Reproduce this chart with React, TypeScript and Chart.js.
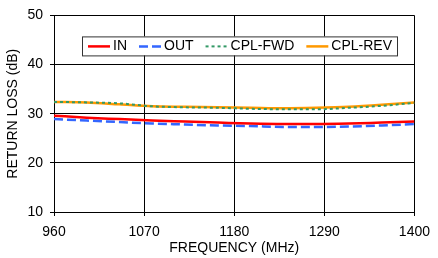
import React, { useEffect, useRef } from "react";
import { Chart, registerables } from "chart.js";

Chart.register(...registerables);

const freqs = [960, 1000, 1040, 1080, 1120, 1160, 1200, 1240, 1280, 1320, 1360, 1400];
const inLoss = [29.6, 29.2, 28.9, 28.6, 28.4, 28.2, 28.0, 27.9, 27.9, 28.0, 28.2, 28.4];
const outLoss = [28.9, 28.6, 28.3, 28.0, 27.8, 27.6, 27.5, 27.3, 27.3, 27.4, 27.6, 27.9];
const cplFwd = [32.4, 32.3, 32.1, 31.5, 31.3, 31.2, 31.0, 30.9, 30.9, 31.2, 31.6, 32.2];
const cplRev = [32.4, 32.3, 31.9, 31.5, 31.4, 31.3, 31.2, 31.1, 31.2, 31.4, 31.8, 32.3];
const seriesLabels = ["IN", "OUT", "CPL-FWD", "CPL-REV"];
const xTicks = [960, 1070, 1180, 1290, 1400];
const yTicks = [10, 20, 30, 40, 50];
const xTitle = "FREQUENCY (MHz)";
const yTitle = "RETURN LOSS (dB)";

const FONT = "'Liberation Sans', Arial, sans-serif";

const legendPlugin = {
  id: "boxLegend",
  afterDraw(chart: any) {
    const ctx = chart.ctx;
    const area = chart.chartArea;
    const left = area.left + 28;
    const top = area.top + 21;
    const h = 19;
    ctx.save();
    ctx.font = `14px ${FONT}`;
    const items = chart.data.datasets.map((d: any) => ({
      label: d.label,
      color: d.borderColor,
      dash: d.borderDash || [],
      lw: d.borderWidth,
      w: ctx.measureText(d.label).width,
    }));
    const sample = 22;
    let total = 6 + 5;
    items.forEach((it: any, i: number) => {
      total += sample + 3 + it.w + (i < items.length - 1 ? 12 : 0);
    });
    ctx.fillStyle = "#ffffff";
    ctx.fillRect(left, top, total, h);
    ctx.strokeStyle = "#333333";
    ctx.lineWidth = 1;
    ctx.strokeRect(left + 0.5, top + 0.5, total, h);
    let x = left + 6;
    const cy = top + h / 2 + 0.5;
    items.forEach((it: any) => {
      ctx.beginPath();
      ctx.setLineDash(it.dash);
      ctx.strokeStyle = it.color;
      ctx.lineWidth = it.lw;
      ctx.moveTo(x, cy);
      ctx.lineTo(x + sample, cy);
      ctx.stroke();
      ctx.setLineDash([]);
      x += sample + 3;
      ctx.fillStyle = "#000000";
      ctx.textBaseline = "middle";
      ctx.textAlign = "left";
      ctx.fillText(it.label, x, cy);
      x += it.w + 12;
    });
    ctx.restore();
  },
};

export default function App() {
  const ref = useRef<HTMLCanvasElement>(null);
  useEffect(() => {
    document.body.style.margin = "0";
    const mk = (vals: number[]) => freqs.map((f, i) => ({ x: f, y: vals[i] }));
    const chart = new Chart(ref.current!, {
      type: "line",
      data: {
        datasets: [
          { label: seriesLabels[0], data: mk(inLoss), borderColor: "#ff0000", borderWidth: 2.5, pointRadius: 0, tension: 0.4, cubicInterpolationMode: "monotone" },
          { label: seriesLabels[1], data: mk(outLoss), borderColor: "#3366ff", borderWidth: 2.5, borderDash: [9, 4], pointRadius: 0, tension: 0.4, cubicInterpolationMode: "monotone" },
          { label: seriesLabels[2], data: mk(cplFwd), borderColor: "#339966", borderWidth: 2, borderDash: [3, 3], pointRadius: 0, tension: 0.4, cubicInterpolationMode: "monotone" },
          { label: seriesLabels[3], data: mk(cplRev), borderColor: "#ff9900", borderWidth: 2.5, pointRadius: 0, tension: 0.4, cubicInterpolationMode: "monotone" },
        ],
      } as any,
      options: {
        animation: false,
        responsive: false,
        maintainAspectRatio: false,
        layout: { padding: { left: 0, right: 17, top: 12, bottom: 0 } },
        plugins: { legend: { display: false }, tooltip: { enabled: false }, title: { display: false } },
        scales: {
          x: {
            type: "linear",
            min: 960,
            max: 1400,
            afterBuildTicks: (s: any) => { s.ticks = xTicks.map((v) => ({ value: v })); },
            afterFit: (s: any) => { s.height = 46; },
            grid: { color: "#000000", lineWidth: 1, tickLength: 4, drawTicks: true },
            border: { display: true, color: "#000000" },
            ticks: { color: "#000000", font: { family: FONT, size: 14 }, padding: 8, maxRotation: 0, callback: (v: any) => String(v) },
            title: { display: true, text: xTitle, color: "#000000", font: { family: FONT, size: 14 }, padding: { top: 0, bottom: 1 } },
          },
          y: {
            type: "linear",
            min: 10,
            max: 50,
            afterBuildTicks: (s: any) => { s.ticks = yTicks.map((v) => ({ value: v })); },
            afterFit: (s: any) => { s.width = 54; },
            grid: { color: "#000000", lineWidth: 1, tickLength: 4, drawTicks: true },
            border: { display: true, color: "#000000" },
            ticks: { color: "#000000", font: { family: FONT, size: 14 }, padding: 7, callback: (v: any) => String(v) },
            title: { display: true, text: yTitle, color: "#000000", font: { family: FONT, size: 14 }, padding: { top: 5, bottom: 0 } },
          },
        },
      } as any,
      plugins: [legendPlugin],
    });
    return () => chart.destroy();
  }, []);
  return (
    <div style={{ position: "fixed", left: 0, top: 0, width: 438, height: 258, background: "#fff" }}>
      <canvas ref={ref} width={438} height={258} style={{ width: 438, height: 258 }} />
    </div>
  );
}
